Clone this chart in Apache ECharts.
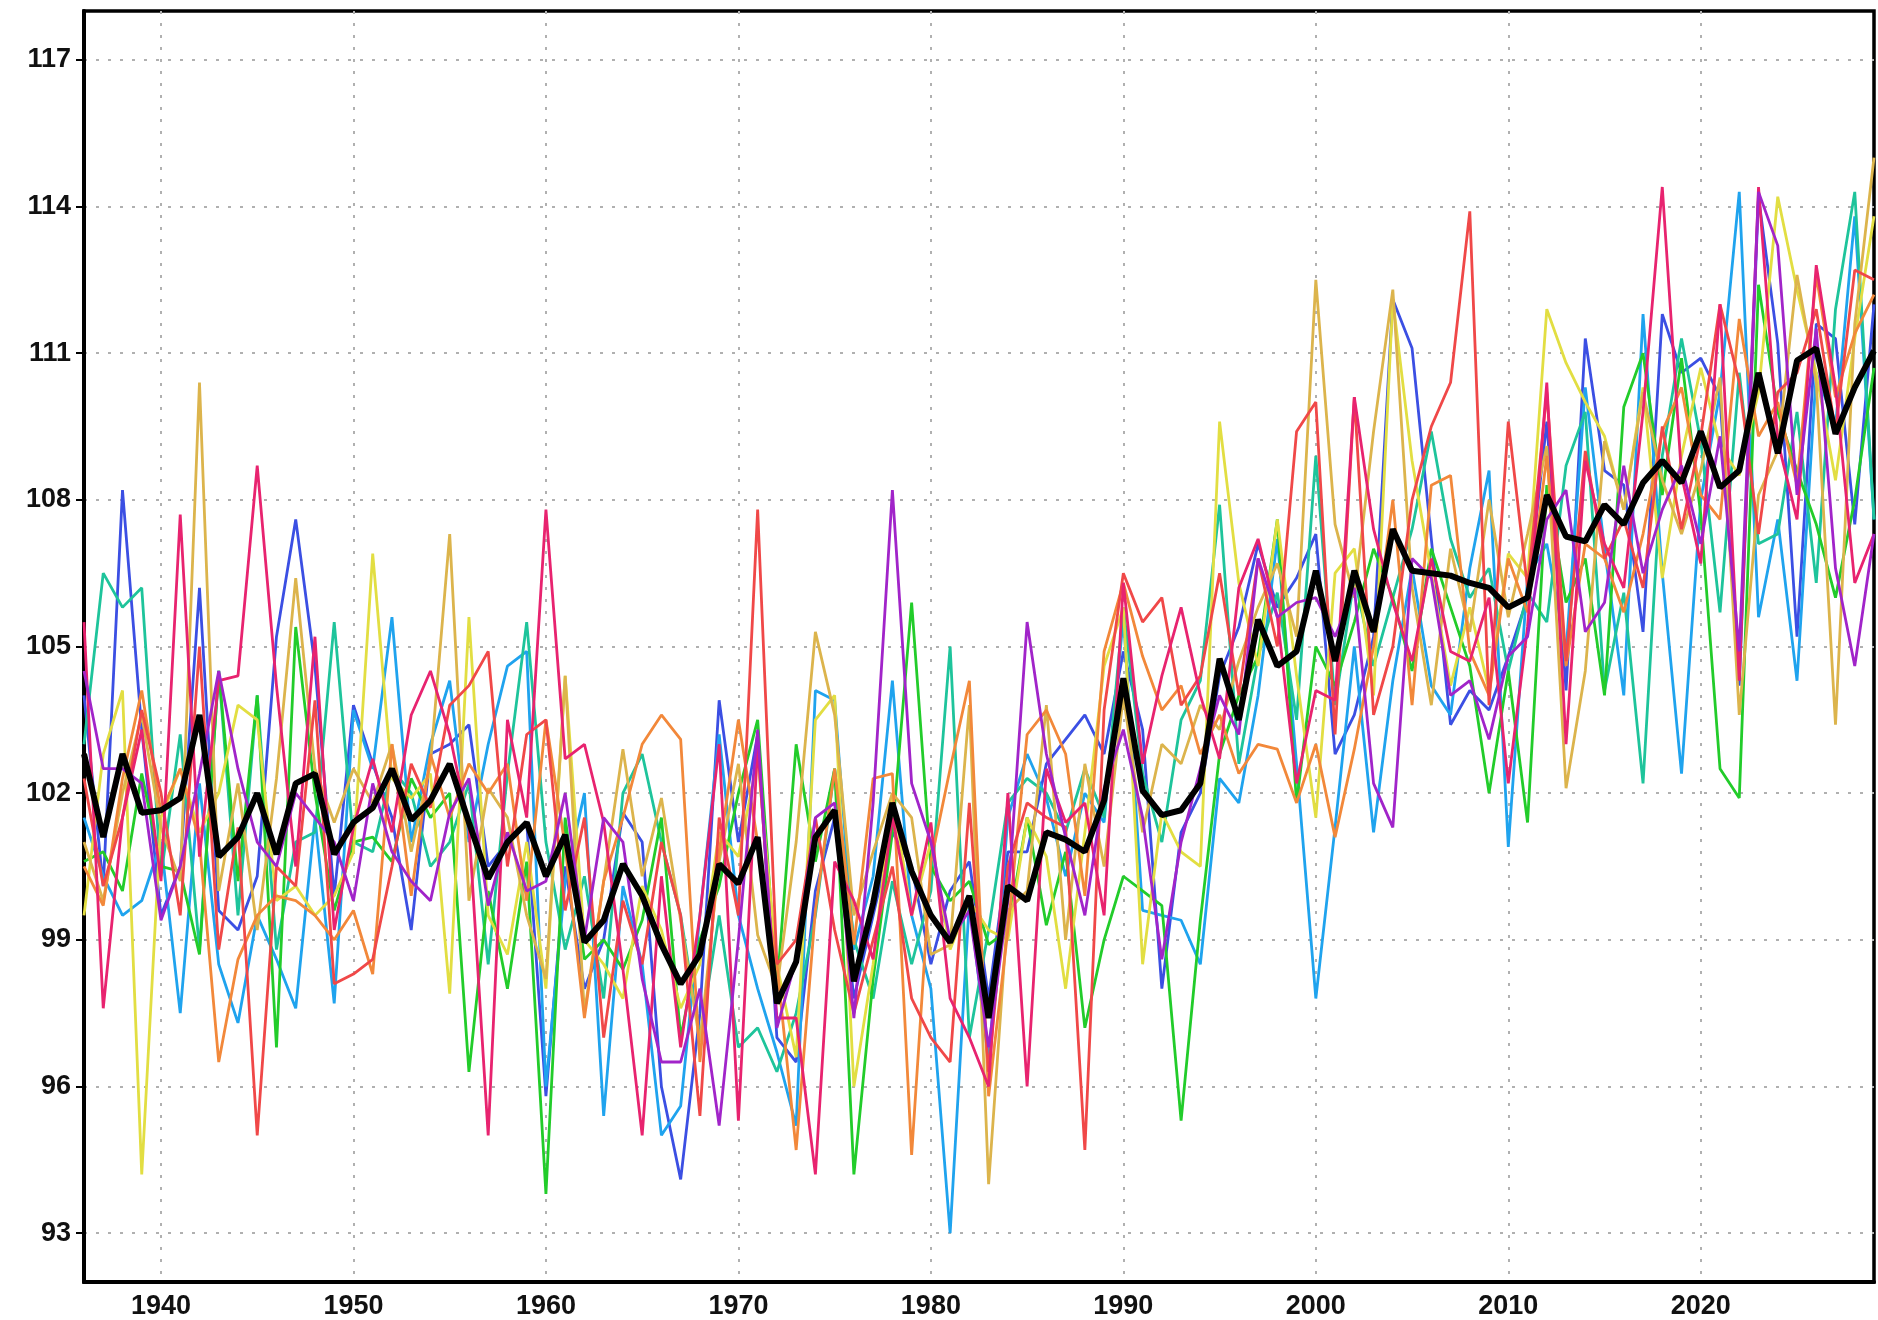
<!DOCTYPE html>
<html>
<head>
<meta charset="utf-8">
<script src="https://cdn.jsdelivr.net/npm/echarts@6/dist/echarts.min.js"></script>
<style>
  html, body { margin: 0; padding: 0; background: #fff; }
  #chart { width: 1878px; height: 1320px; }
</style>
</head>
<body>
<div id="chart"></div>
<script>
// years 1936..2029
const startYear = 1936;
const yTicks = [93, 96, 99, 102, 105, 108, 111, 114, 117];
const xTicks = [1940, 1950, 1960, 1970, 1980, 1990, 2000, 2010, 2020];

// ensemble members, one array per member
const blue = [
  104.0, 100.1, 108.2, 103.3, 99.5, 100.5, 106.2, 99.6, 99.2, 100.3,
  105.2, 107.6, 104.6, 99.9, 103.8, 102.6, 101.5, 99.2, 102.8, 103.0,
  103.4, 100.5, 101.0, 101.4, 95.8, 100.5, 98.0, 99.0, 101.6, 101.0,
  96.0, 94.1, 97.5, 103.9, 101.0, 103.2, 97.0, 96.5, 100.0, 101.5,
  97.8, 99.5, 101.2, 100.5, 98.5, 100.0, 100.6, 97.8, 100.8, 100.8,
  102.6, 103.1, 103.6, 102.8, 104.9, 103.3, 98.0, 101.2, 102.0, 104.4,
  105.4, 107.1, 105.8, 106.4, 107.3, 102.8, 103.6, 105.2, 112.1, 111.1,
  107.2, 103.4, 104.1, 103.7, 104.8, 106.0, 109.6, 104.1, 111.3, 108.6,
  108.3, 105.3, 111.8, 110.6, 110.9, 110.1, 104.2, 114.2, 111.2, 105.2,
  111.6, 111.3, 107.5, 112.0
];
const skyblue = [
  101.5, 100.3, 99.5, 99.8, 101.0, 97.5, 102.2, 98.5, 97.3, 99.5,
  98.6, 97.6, 101.5, 97.7, 103.7, 102.5, 105.6, 101.0, 103.0, 104.3,
  101.0, 103.0, 104.6, 104.9, 96.0, 100.2, 102.0, 95.4, 100.1, 98.5,
  95.0, 95.6, 99.5, 103.2, 99.5, 98.0, 96.7, 95.2, 104.1, 103.9,
  98.8, 100.3, 104.3, 99.5, 98.0, 93.0, 99.8, 96.5, 101.5, 102.8,
  101.9, 100.3, 102.0, 101.4, 105.6, 99.6, 99.5, 99.4, 98.5, 102.3,
  101.8, 104.0, 107.2, 102.6, 97.8, 101.3, 105.0, 101.2, 104.3, 106.6,
  104.2, 103.6, 106.6, 108.6, 100.9, 106.4, 107.1, 104.9, 110.3, 107.0,
  104.0, 111.8, 106.5, 102.4, 108.0, 110.2, 114.3, 105.6, 107.6, 104.3,
  110.6, 109.5, 113.8, 107.6
];
const teal = [
  103.0, 106.5, 105.8, 106.2, 100.3, 103.2, 98.8, 104.5, 99.5, 104.0,
  98.8, 101.0, 101.2, 105.5, 101.0, 100.8, 102.5, 102.0, 100.5, 101.0,
  102.2, 98.5, 102.4, 105.5, 101.0, 98.8, 100.3, 97.8, 102.0, 102.8,
  101.0, 99.5, 97.0, 99.5, 96.8, 97.2, 96.3, 97.5, 99.5, 102.5,
  99.0, 97.8, 100.2, 98.5, 100.0, 105.0, 97.0, 99.2, 101.8, 102.3,
  102.0, 101.2, 102.5, 101.5, 105.8, 102.4, 101.0, 103.5, 104.3, 107.9,
  102.6, 104.8, 106.1, 103.5, 108.9, 103.8, 106.4, 104.6, 106.0, 107.4,
  109.4, 107.2, 106.0, 106.6, 104.5, 106.1, 105.5, 108.7, 109.8, 104.1,
  106.1, 102.2, 108.9, 111.3, 109.2, 105.7, 110.6, 107.1, 107.3, 109.8,
  106.3, 111.9, 114.3, 107.6
];
const green = [
  100.6, 100.8, 100.0, 102.4, 100.5, 100.4, 98.7, 104.5, 100.2, 104.0,
  96.8, 105.4, 102.0, 99.6, 101.0, 101.1, 100.6, 102.3, 101.5, 102.0,
  96.3, 100.0, 98.0, 100.6, 93.8, 101.5, 98.6, 99.0, 98.4, 99.4,
  101.5, 97.0, 99.0, 100.1, 102.0, 103.5, 98.0, 103.0, 100.6, 102.5,
  94.2, 98.2, 101.2, 105.9, 100.5, 99.8, 100.2, 98.9, 99.2, 101.5,
  99.3, 100.8, 97.2, 99.0, 100.3, 100.0, 99.7, 95.3, 99.4, 102.8,
  104.0, 104.8, 107.6, 101.8, 105.0, 104.2, 105.5, 107.0, 106.0, 104.5,
  107.0, 105.8, 104.6, 102.0, 104.5, 101.4, 108.3, 105.9, 106.8, 104.0,
  109.9, 111.0, 108.1, 110.9, 107.7, 102.5, 101.9, 112.4, 109.8, 108.6,
  107.5, 106.0, 108.0, 110.7
];
const yellow = [
  99.5, 102.8, 104.1, 94.2, 101.5, 102.5, 101.2, 102.0, 103.8, 103.5,
  99.8, 100.1, 99.5, 99.9, 100.8, 106.9, 102.3, 101.9, 102.4, 97.9,
  105.6, 99.5, 98.7, 101.0, 98.0, 104.4, 99.0, 98.5, 97.8, 100.1,
  99.2, 97.6, 98.5, 101.2, 100.7, 102.7, 98.5, 96.6, 103.5, 104.0,
  96.0, 98.5, 102.0, 99.5, 101.0, 98.8, 99.8, 99.2, 99.0, 101.5,
  100.7, 98.0, 101.2, 104.6, 105.8, 98.5, 101.6, 100.8, 100.5, 109.6,
  106.3, 104.6, 107.6, 104.4, 101.5, 106.5, 107.0, 104.0, 112.1, 108.8,
  106.5, 104.2, 105.8, 104.1, 106.9, 106.4, 111.9, 110.8, 110.0, 109.3,
  107.8, 110.3, 106.4, 108.9, 110.7, 109.1, 108.5, 110.2, 114.2, 112.3,
  110.6, 108.4, 111.3, 113.8
];
const gold = [
  101.0, 99.8, 102.0, 103.6, 101.3, 100.2, 110.4, 100.0, 102.2, 99.2,
  102.3, 106.4, 102.5, 101.4, 102.5, 101.8, 103.0, 100.8, 102.6, 107.3,
  99.8, 102.1, 101.5, 99.5, 98.2, 104.4, 97.5, 100.2, 102.9, 100.3,
  101.9, 99.4, 96.9, 100.6, 102.6, 99.1, 98.0, 101.0, 105.3, 103.6,
  99.5, 100.8, 102.0, 101.5, 98.7, 98.9, 103.8, 94.0, 99.6, 100.0,
  103.8, 99.0, 102.6, 100.5, 104.0, 101.2, 103.0, 102.6, 103.8, 103.3,
  104.7, 105.8, 106.7, 105.2, 112.5, 107.5, 106.0, 109.4, 112.3, 106.2,
  103.8, 107.0, 105.3, 108.0, 105.6, 107.3, 109.1, 102.1, 104.5, 109.2,
  107.8, 110.2, 108.4, 107.3, 108.6, 110.5, 103.6, 108.1, 109.0, 112.6,
  110.4, 103.4, 111.6, 115.0
];
const orange = [
  100.5, 99.7, 102.3, 104.1, 101.6, 102.5, 101.0, 96.5, 98.6, 99.5,
  99.9, 99.8, 99.5, 99.0, 99.6, 98.3, 103.0, 99.9, 102.8, 101.5,
  102.6, 102.0, 102.6, 99.8, 103.5, 100.9, 97.4, 100.2, 101.5, 103.0,
  103.6, 103.1, 96.5, 100.8, 103.5, 101.0, 98.5, 94.7, 99.6, 102.5,
  98.9, 102.3, 102.4, 94.6, 100.6, 102.5, 104.3, 95.8, 99.2, 103.2,
  103.7, 102.8, 99.9, 104.9, 106.3, 104.8, 103.7, 104.2, 102.8, 103.6,
  102.4, 103.0, 102.9, 101.8, 103.0, 101.1, 102.9, 105.0, 108.0, 103.8,
  108.3, 108.5, 104.9, 104.0, 106.8, 105.7, 108.9, 104.6, 107.1, 106.8,
  105.7, 107.3, 109.4, 110.3, 108.1, 107.6, 111.7, 109.3, 110.0, 108.3,
  112.6, 110.1, 111.4, 112.2
];
const red = [
  102.3, 100.1, 101.5, 103.7, 102.0, 99.5, 105.0, 98.8, 101.3, 95.0,
  100.5, 100.1, 103.9, 98.1, 98.3, 98.6, 100.5, 102.6, 101.7, 103.8,
  104.2, 104.9, 100.5, 103.2, 103.5, 99.6, 101.5, 97.0, 99.8, 98.5,
  101.0, 99.5, 95.4, 101.5, 99.5, 107.8, 98.5, 99.0, 101.5, 99.2,
  97.5, 99.0, 100.5, 97.8, 97.0, 96.5, 101.8, 96.3, 100.5, 101.8,
  101.5, 101.3, 94.7, 103.7, 106.5, 105.5, 106.0, 103.8, 104.4, 106.5,
  104.0, 106.8, 105.0, 109.4, 110.0, 103.2, 110.1, 103.6, 105.0, 108.0,
  109.5, 110.4, 113.9, 103.8, 109.6, 106.2, 110.2, 104.7, 109.0, 106.8,
  107.6, 106.2, 109.5, 107.4, 109.3, 112.0, 110.4, 107.3, 110.2, 110.6,
  111.9, 109.4, 112.7, 112.5
];
const crimson = [
  105.5, 97.6, 101.5, 103.3, 100.2, 107.7, 100.7, 104.3, 104.4, 108.7,
  104.2, 100.5, 105.2, 99.2, 101.3, 102.7, 101.2, 103.6, 104.5, 103.2,
  101.3, 95.0, 103.5, 101.5, 107.8, 102.7, 103.0, 101.4, 98.4, 95.0,
  100.3, 96.8, 99.5, 103.0, 95.3, 103.0, 97.4, 97.4, 94.2, 100.6,
  99.8, 98.6, 101.5, 99.5, 101.4, 97.8, 97.0, 96.0, 102.0, 96.0,
  102.5, 101.4, 101.8, 99.5, 106.3, 102.6, 104.4, 105.8, 104.0, 102.7,
  106.2, 107.2, 105.6, 102.2, 104.1, 103.9, 110.1, 107.4, 105.9, 104.7,
  106.8, 104.9, 104.7, 106.0, 102.2, 105.4, 110.4, 103.0, 108.8, 107.1,
  106.2, 109.8, 114.4, 108.5, 106.7, 112.0, 104.3, 114.4, 109.2, 107.6,
  112.8, 110.3, 106.3, 107.3
];
const purple = [
  104.5, 102.5, 102.5, 102.2, 99.4, 100.5, 102.4, 104.5, 102.5, 101.0,
  100.5, 102.0, 101.5, 101.0, 99.8, 102.2, 100.8, 100.2, 99.8, 101.6,
  102.3, 99.7, 101.2, 100.0, 100.2, 102.0, 99.0, 101.5, 101.0, 98.2,
  96.5, 96.5, 98.0, 95.2, 99.0, 103.3, 97.2, 98.6, 101.5, 101.8,
  97.4, 101.8, 108.2, 102.2, 101.0, 99.0, 99.6, 96.8, 99.8, 105.5,
  102.8, 101.1, 99.5, 102.1, 103.3, 101.5, 98.6, 101.0, 102.5, 104.0,
  103.2, 106.8, 105.6, 105.9, 106.0, 105.2, 106.2, 102.2, 101.3, 106.8,
  106.4, 104.0, 104.3, 103.1, 104.8, 105.2, 107.6, 108.2, 105.3, 105.9,
  108.7, 106.5, 107.8, 108.7, 107.1, 109.3, 104.9, 114.3, 113.2, 108.1,
  111.5, 106.6, 104.6, 107.3
];
// ensemble mean (thick black)
const ensMean = [
  102.8, 101.1, 102.8, 101.6, 101.65, 101.9, 103.6, 100.7, 101.1, 102.0,
  100.75, 102.2, 102.4, 100.75, 101.4, 101.7, 102.5, 101.45, 101.85, 102.6,
  101.4, 100.25, 101.0, 101.4, 100.3, 101.15, 98.95, 99.4, 100.55, 99.9,
  98.9, 98.1, 98.7, 100.55, 100.15, 101.1, 97.7, 98.55, 101.1, 101.65,
  98.15, 99.75, 101.8, 100.4, 99.5, 98.95, 99.9, 97.4, 100.1, 99.8,
  101.2, 101.05, 100.8, 101.85, 104.35, 102.05, 101.55, 101.65, 102.2, 104.75,
  103.5, 105.55, 104.6, 104.9, 106.55, 104.7, 106.55, 105.3, 107.4, 106.55,
  106.5, 106.45, 106.3, 106.2, 105.8, 106.0, 108.1, 107.25, 107.15, 107.9,
  107.5, 108.35, 108.8, 108.35, 109.4, 108.25, 108.6, 110.6, 108.95, 110.85,
  111.1, 109.35, 110.3, 111.05
];

const members = [
  { data: blue, color: '#3b4fe3' },
  { data: skyblue, color: '#1fa3ee' },
  { data: teal, color: '#1ec49b' },
  { data: green, color: '#22cc2a' },
  { data: yellow, color: '#e2de42' },
  { data: gold, color: '#dcb44c' },
  { data: orange, color: '#f2883a' },
  { data: red, color: '#f04848' },
  { data: crimson, color: '#e8236f' },
  { data: purple, color: '#a124c9' }
];

const toPairs = arr => arr.map((v, i) => [startYear + i, v]);

const chart = echarts.init(document.getElementById('chart'), null, { renderer: 'canvas' });

const gridLine = { show: true, lineStyle: { color: '#b0b0b0', width: 2, type: [3, 9] } };
const labelFont = { color: '#111', fontSize: 27, fontWeight: 'bold', fontFamily: 'Liberation Sans, Arial, sans-serif', formatter: v => String(v) };

const series = members.map(m => ({
  type: 'line',
  data: toPairs(m.data),
  symbol: 'none',
  lineStyle: { color: m.color, width: 2.8 },
  silent: true,
  animation: false
}));
series.push({
  type: 'line',
  data: toPairs(ensMean),
  symbol: 'none',
  lineStyle: { color: '#000', width: 6 },
  z: 5,
  silent: true,
  animation: false
});

chart.setOption({
  backgroundColor: '#fff',
  animation: false,
  grid: { left: 84, right: 4, top: 11, bottom: 38, show: true, borderColor: '#000', borderWidth: 3.5, backgroundColor: 'transparent' },
  xAxis: {
    type: 'value', min: 1936, max: 2029,
    axisLine: { show: true, onZero: false, lineStyle: { color: '#000', width: 4 } },
    axisTick: { show: false, customValues: xTicks },
    axisLabel: { ...labelFont, margin: 11, customValues: xTicks },
    splitLine: gridLine
  },
  yAxis: {
    type: 'value', min: 92, max: 118,
    axisLine: { show: true, lineStyle: { color: '#000', width: 4 } },
    axisTick: { show: true, length: 8, inside: false, customValues: yTicks, lineStyle: { color: '#000', width: 2 } },
    axisLabel: { ...labelFont, margin: 13, customValues: yTicks },
    splitLine: gridLine
  },
  series
});
</script>
</body>
</html>
